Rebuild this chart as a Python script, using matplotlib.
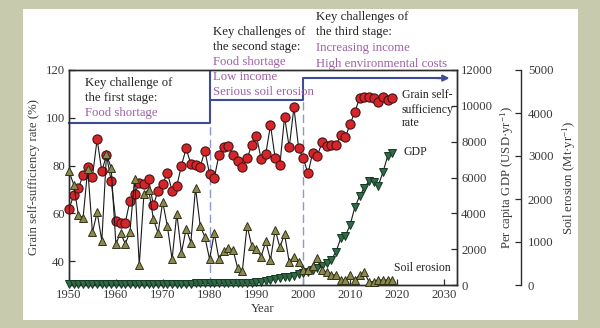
import matplotlib
matplotlib.use("Agg")
import matplotlib.pyplot as plt
from matplotlib.patches import Rectangle

plt.rcParams['font.family'] = ['Liberation Serif', 'DejaVu Serif']
plt.rcParams['mathtext.fontset'] = 'custom'
plt.rcParams['mathtext.rm'] = 'Liberation Serif'
plt.rcParams['mathtext.it'] = 'Liberation Serif:italic'

years = list(range(1950, 2020))

grain = [61.7, 67.6, 70.4, 76.0, 79.5, 75.3, 91.0, 77.6, 84.4, 73.5,
         56.7, 55.8, 56.0, 65.2, 68.3, 72.5, 72.3, 74.3, 63.4, 69.4,
         72.2, 77.0, 69.3, 71.5, 80.0, 87.2, 80.6, 80.3, 79.5, 86.2,
         76.4, 74.7, 84.5, 87.8, 88.1, 84.4, 81.8, 79.2, 83.0, 88.5,
         92.4, 82.6, 85.0, 97.0, 83.0, 80.2, 100.4, 87.6, 104.4, 87.4,
         83.0, 76.7, 85.3, 84.1, 89.7, 88.1, 88.8, 88.8, 92.7, 92.0,
         97.4, 102.5, 108.1, 108.8, 108.8, 108.1, 106.7, 108.8, 107.4, 108.1]

soil = [2647, 2336, 1635, 1558, 2703, 1222, 1689, 1028, 3037, 2726,
        958, 1208, 958, 1222, 2476, 467, 2126, 2219, 1542, 1208,
        1932, 1362, 600, 1659, 755, 1308, 988, 2259, 1378, 1114,
        600, 1208, 600, 801, 857, 818, 390, 334, 1378, 910,
        830, 662, 1012, 584, 1285, 880, 1183, 529, 662, 529,
        350, 350, 452, 623, 350, 296, 234, 234, 117, 117,
        234, 117, 234, 296, 78, 78, 117, 117, 117, 117]

gdp = [40, 40, 42, 44, 45, 46, 48, 50, 52, 52,
       50, 46, 45, 46, 48, 50, 52, 52, 50, 52,
       55, 58, 70, 75, 78, 82, 82, 86, 90, 95,
       100, 102, 106, 110, 115, 118, 120, 122, 125, 129,
       168, 187, 224, 262, 318, 374, 430, 467, 523, 598,
       654, 747, 841, 934, 1065, 1215, 1402, 1869, 2617, 2747,
       3364, 4336, 4953, 5420, 5794, 5757, 5551, 6299, 7196, 7385]

left_ticks = [40, 60, 80, 100, 120]
gdp_ticks = [0, 2000, 4000, 6000, 8000, 10000, 12000]
soil_ticks = [0, 1000, 2000, 3000, 4000, 5000]
x_ticks = [1950, 1960, 1970, 1980, 1990, 2000, 2010, 2020, 2030]

stage_x = [1950, 1980, 1980, 2000, 2000, 2029]
stage_y = [97.8, 97.8, 107.4, 107.4, 116.6, 116.6]

W, H = 600, 328
fig = plt.figure(figsize=(6, 3.28), dpi=100, facecolor='#c8caae')
fig.patches.append(Rectangle((23 / W, 1 - 320 / H), (578 - 23) / W, (320 - 9) / H,
                             transform=fig.transFigure, facecolor='white',
                             edgecolor='none', zorder=-5))

L, R, T, B = 69, 457, 70, 285
ax = fig.add_axes([L / W, 1 - B / H, (R - L) / W, (B - T) / H])
ax.patch.set_visible(False)
ax2 = ax.twinx()
ax3 = ax.twinx()
ax2.patch.set_visible(False)
ax3.patch.set_visible(False)

spine_col = '#2b2b2b'
tick_col = '#3a3a3a'
fs = 9.2

ax.set_xlim(1950, 2032.8)
ax.set_ylim(30, 120)
ax2.set_ylim(0, 12000)
ax3.set_ylim(0, 5000)

# grain
ax.plot(years, grain, color='#1a1a1a', lw=0.8, marker='o', ms=6.6,
        mfc='#d4252b', mec='#4a1212', mew=0.8, clip_on=False, zorder=3)
# GDP
ax2.plot(years, gdp, color='#1a1a1a', lw=0.8, marker='v', ms=5.3,
         mfc='#2f6b47', mec='#163822', mew=0.7, clip_on=False, zorder=3)
# soil
ax3.plot(years, soil, color='#1a1a1a', lw=0.8, marker='^', ms=5.8,
         mfc='#8a8950', mec='#333318', mew=0.7, clip_on=False, zorder=3)

# stage lines
stage_col = '#3d4c96'
dash_col = '#8d97d0'
ax.plot(stage_x, stage_y, color=stage_col, lw=1.5, clip_on=False, zorder=4)
ax.plot([1980, 1980], [107.4, 119.2], color=stage_col, lw=1.5, clip_on=False, zorder=4)
ax.annotate('', xy=(2031.2, 116.6), xytext=(2028.5, 116.6),
            arrowprops=dict(arrowstyle='-|>', color=stage_col, lw=1.5,
                            mutation_scale=9, shrinkA=0, shrinkB=0),
            annotation_clip=False, zorder=4)
ax.plot([1980, 1980], [30, 97.8], color=dash_col, lw=1.0, ls=(0, (6, 3)), zorder=2)
ax.plot([2000, 2000], [30, 107.4], color=dash_col, lw=1.0, ls=(0, (6, 3)), zorder=2)

# axes styling
for a in (ax, ax2, ax3):
    for s in a.spines.values():
        s.set_color(spine_col)
        s.set_linewidth(1.0)
ax3.spines['right'].set_position(('axes', (521 - L) / (R - L)))
for s in ('top', 'left', 'bottom'):
    ax3.spines[s].set_visible(False)

ax.set_xticks(x_ticks)
ax.set_yticks(left_ticks)
ax2.set_yticks(gdp_ticks)
ax3.set_yticks(soil_ticks)
ax.tick_params(axis='both', direction='in', length=4, width=0.9, colors=spine_col,
               labelcolor=tick_col, labelsize=fs, pad=3)
ax2.tick_params(axis='y', direction='in', length=4, width=0.9, colors=spine_col,
                labelcolor=tick_col, labelsize=fs, pad=3)
ax3.tick_params(axis='y', direction='in', length=4, width=0.9, colors=spine_col,
                labelcolor=tick_col, labelsize=fs, pad=5)

ax.set_xlabel('Year', fontsize=fs, color=tick_col, labelpad=1)
ax.set_ylabel('Grain self-sufficiency rate (%)', fontsize=fs, color=tick_col, labelpad=4)
ax2.set_ylabel('Per capita GDP (USD·yr$^{-1}$)', fontsize=fs, color=tick_col, labelpad=4)
ax3.set_ylabel('Soil erosion (Mt·yr$^{-1}$)', fontsize=fs, color=tick_col, labelpad=5)

purple = '#9d5fa5'
dark = '#222222'


def ftext(x, y, s, color=dark, size=fs):
    fig.text(x / W, 1 - y / H, s, color=color, fontsize=size, ha='left', va='center')


ftext(85.5, 83, 'Key challenge of')
ftext(85.5, 98, 'the first stage:')
ftext(85.5, 113, 'Food shortage', purple)

ftext(213, 31.7, 'Key challenges of')
ftext(213, 46.7, 'the second stage:')
ftext(213, 61.7, 'Food shortage', purple)
ftext(213, 76.7, 'Low income', purple)
ftext(213, 91.7, 'Serious soil erosion', purple)

ftext(316, 16.7, 'Key challenges of')
ftext(316, 32.3, 'the third stage:')
ftext(316, 48.3, 'Increasing income', purple)
ftext(316, 64, 'High environmental costs', purple)

ls = 8.5
ftext(401.5, 95, 'Grain self-', size=ls)
ftext(401.5, 109.5, 'sufficiency', size=ls)
ftext(401.5, 123.5, 'rate', size=ls)
ftext(404, 152, 'GDP', size=ls)
ftext(394, 268, 'Soil erosion', size=ls)

fig.savefig('out.png', dpi=100, facecolor=fig.get_facecolor())
